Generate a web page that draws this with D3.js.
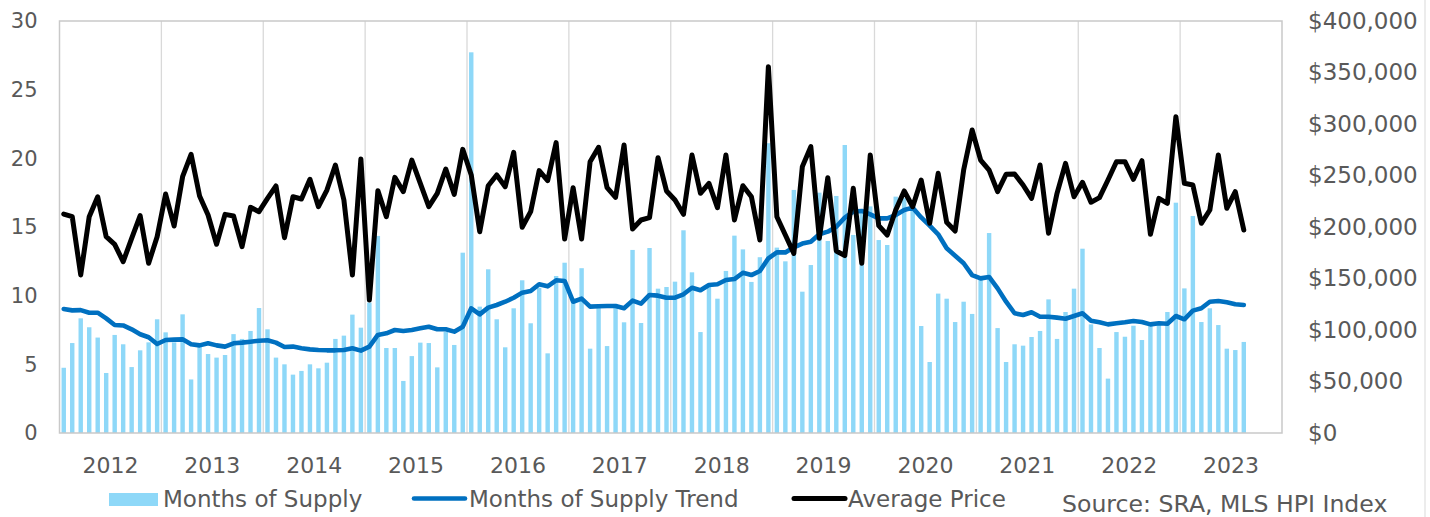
<!DOCTYPE html>
<html><head><meta charset="utf-8">
<script src="https://cdn.jsdelivr.net/npm/d3@7"></script>
<style>
html,body{margin:0;padding:0;background:#fff;}
svg text{font-family:"DejaVu Sans",Verdana,sans-serif;fill:#595959;}
</style></head>
<body>
<svg id="chart" width="1430" height="517"></svg>
<script>
// ---- DATA ----
const years = ["2012","2013","2014","2015","2016","2017","2018","2019","2020","2021","2022","2023"];
const months = [];
years.forEach(y => ["01","02","03","04","05","06","07","08","09","10","11","12"].forEach(m => months.push(y + "-" + m)));

const monthsOfSupply = [
4.75,6.55,8.35,7.7,6.95,4.37,7.14,6.46,4.8,6.02,6.6,8.28,
7.33,6.6,8.64,3.9,6.3,5.75,5.49,5.68,7.2,6.85,7.43,9.1,
7.55,5.49,5.0,4.25,4.52,5.0,4.71,5.12,6.85,7.09,8.62,7.67,
9.5,14.35,6.19,6.19,3.79,5.6,6.58,6.55,4.78,7.38,6.41,13.13,
27.72,9.2,11.92,8.28,6.24,9.08,11.12,7.99,10.58,5.8,11.43,12.4,
9.56,12.0,6.14,9.3,6.33,9.4,8.06,13.33,8.01,13.47,10.51,10.63,
11.02,14.76,11.7,7.35,10.7,9.78,11.8,14.37,13.37,11.0,12.8,21.1,
13.5,12.5,17.7,10.29,12.23,17.5,13.98,17.26,20.97,14.42,16.0,16.5,
14.05,13.69,17.21,17.1,16.36,7.79,5.17,10.15,9.78,8.08,9.56,8.67,
11.3,14.56,7.64,5.17,6.46,6.36,6.99,7.43,9.73,6.85,8.81,10.51,
13.42,7.91,6.19,3.96,7.35,7.01,7.81,6.77,7.9,8.0,8.81,16.77,
10.53,15.8,8.08,9.08,7.86,6.14,6.04,6.63
];

const supplyTrend = [
9.03,8.93,8.95,8.76,8.76,8.35,7.86,7.83,7.55,7.19,6.97,6.48,
6.77,6.8,6.82,6.46,6.38,6.53,6.38,6.29,6.53,6.58,6.65,6.72,
6.75,6.58,6.26,6.29,6.17,6.09,6.04,6.02,6.02,6.04,6.17,6.0,
6.29,7.14,7.26,7.5,7.43,7.5,7.62,7.74,7.55,7.55,7.38,7.74,
9.08,8.64,9.13,9.32,9.56,9.85,10.22,10.34,10.83,10.68,11.12,11.07,
9.56,9.78,9.2,9.23,9.25,9.25,9.08,9.64,9.42,10.05,10.0,9.85,
9.85,10.1,10.58,10.39,10.78,10.83,11.14,11.21,11.67,11.5,11.8,12.72,
13.15,13.15,13.52,13.79,13.93,14.47,14.66,15.02,15.68,16.12,16.17,15.92,
15.63,15.63,15.87,16.24,16.41,15.7,15.1,14.47,13.45,12.91,12.36,11.5,
11.26,11.36,10.53,9.56,8.72,8.59,8.79,8.47,8.47,8.4,8.32,8.52,
8.72,8.18,8.06,7.91,7.99,8.06,8.16,8.08,7.91,7.99,7.96,8.52,
8.28,8.91,9.08,9.56,9.61,9.52,9.37,9.32
];

const averagePrice = [
212600,210000,153400,210000,229400,190600,183200,166300,189000,211000,164800,190600,
232000,201000,248800,270600,230100,211700,183200,212300,210700,180900,219100,214900,
227800,239800,189600,229400,227200,246300,219700,235900,260200,226200,153400,266000,
129100,235300,210000,248200,234300,265000,242400,219700,232700,256300,231700,275400,
250500,195400,240100,250500,239100,272500,199700,214900,254700,245000,281900,188300,
238200,188300,263400,277400,238200,228800,279600,198100,206800,209100,267300,235000,
226200,212300,269900,232700,242400,218700,269900,206800,240100,229400,187400,355600,
210000,192200,174400,258600,278000,189000,247900,176700,172200,237600,164800,269900,
201300,192200,216500,235000,219700,245600,203600,252100,204600,196100,255300,294200,
265000,255300,234300,251200,251500,240800,227800,260200,193900,232700,261800,229400,
243400,224000,228500,245600,263400,263400,246300,264400,192900,227800,223000,307100,
242400,240800,203600,216500,269900,218200,234300,197100
];

const leftTicks = [0,5,10,15,20,25,30];
const rightTicks = [0,50000,100000,150000,200000,250000,300000,350000,400000];
const seriesNames = ["Months of Supply","Months of Supply Trend","Average Price"];
const sourceText = "Source: SRA, MLS HPI Index";

// ---- LAYOUT ----
const plot = {left:59.5, right:1282, top:21, bottom:433};
const colors = {bar:"#8ED8F8", trend:"#0070C0", price:"#000000", grid:"#D9D9D9", border:"#C9C9C9"};

const svg = d3.select("#chart");

const x = d3.scaleBand().domain(months).range([plot.left, plot.right]).padding(0);
const xYear = d3.scaleBand().domain(years).range([plot.left, plot.right]).padding(0);
const yL = d3.scaleLinear().domain([0,30]).range([plot.bottom, plot.top]);
const yR = d3.scaleLinear().domain([0,400000]).range([plot.bottom, plot.top]);
const step = x.bandwidth();
const cx = i => x(months[i]) + step/2;

// vertical gridlines at year boundaries
svg.append("g").selectAll("line").data(years.slice(1)).join("line")
  .attr("x1", d => xYear(d)).attr("x2", d => xYear(d))
  .attr("y1", plot.top).attr("y2", plot.bottom)
  .attr("stroke", colors.grid).attr("stroke-width", 1.3);

// bars
svg.append("g").selectAll("rect").data(monthsOfSupply).join("rect")
  .attr("x", (d,i) => x(months[i]) + step*0.24)
  .attr("width", step*0.52)
  .attr("y", d => yL(d))
  .attr("height", d => plot.bottom - yL(d))
  .attr("fill", colors.bar);

// trend line
svg.append("path").datum(supplyTrend)
  .attr("d", d3.line().x((d,i) => cx(i)).y(d => yL(d)))
  .attr("fill","none").attr("stroke", colors.trend).attr("stroke-width", 4.6)
  .attr("stroke-linejoin","round").attr("stroke-linecap","round");

// price line
svg.append("path").datum(averagePrice)
  .attr("d", d3.line().x((d,i) => cx(i)).y(d => yR(d)))
  .attr("fill","none").attr("stroke", colors.price).attr("stroke-width", 5)
  .attr("stroke-linejoin","round").attr("stroke-linecap","round");

// plot border
svg.append("rect")
  .attr("x", plot.left).attr("y", plot.top)
  .attr("width", plot.right - plot.left).attr("height", plot.bottom - plot.top)
  .attr("fill","none").attr("stroke", colors.border).attr("stroke-width", 1.5);

// chart right border
svg.append("line").attr("x1",1425).attr("x2",1425).attr("y1",0).attr("y2",517)
  .attr("stroke","#D9D9D9").attr("stroke-width",1);

// axes
const gL = svg.append("g").attr("transform", `translate(${plot.left - 22},0)`)
  .call(d3.axisLeft(yL).tickValues(leftTicks).tickSize(0).tickPadding(0));
gL.select(".domain").remove();
gL.selectAll("text").style("font-size","21px").attr("fill","#595959");

const gR = svg.append("g").attr("transform", `translate(${1308},0)`)
  .call(d3.axisRight(yR).tickValues(rightTicks).tickSize(0).tickPadding(0).tickFormat(d3.format("$,")));
gR.select(".domain").remove();
gR.selectAll("text").style("font-size","23px").attr("fill","#595959");

const gX = svg.append("g").attr("transform", `translate(0,${plot.bottom})`)
  .call(d3.axisBottom(xYear).tickSize(0).tickPadding(0));
gX.select(".domain").remove();
gX.selectAll("text").style("font-size","22px").attr("fill","#595959").attr("dy",null).attr("y",40);

// legend
const lg = svg.append("g").style("font-size","23px");
lg.append("rect").attr("x",109).attr("y",493).attr("width",49).attr("height",13).attr("fill",colors.bar);
lg.append("text").attr("x",163).attr("y",507).text(seriesNames[0]);
lg.append("line").attr("x1",414).attr("x2",465).attr("y1",498.5).attr("y2",498.5)
  .attr("stroke",colors.trend).attr("stroke-width",4.6).attr("stroke-linecap","round");
lg.append("text").attr("x",469).attr("y",507).text(seriesNames[1]);
lg.append("line").attr("x1",794).attr("x2",845).attr("y1",498.5).attr("y2",498.5)
  .attr("stroke",colors.price).attr("stroke-width",5).attr("stroke-linecap","round");
lg.append("text").attr("x",848).attr("y",507).text(seriesNames[2]);

svg.append("text").attr("x",1062).attr("y",512).style("font-size","23.6px").text(sourceText);
</script>
</body></html>
